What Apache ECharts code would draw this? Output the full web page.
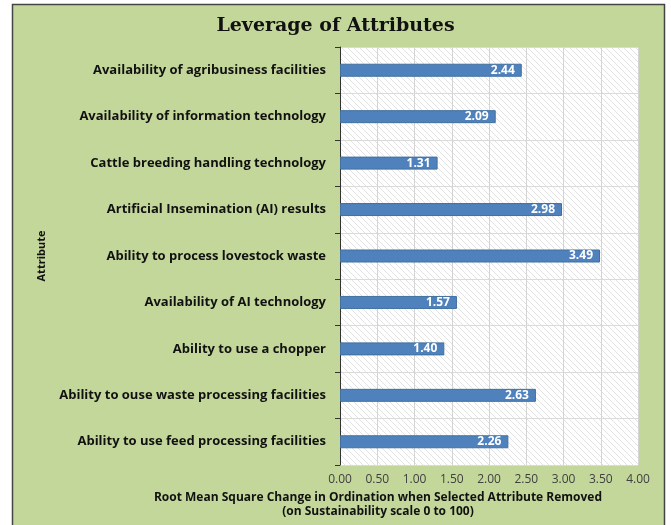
<!DOCTYPE html>
<html><head><meta charset="utf-8">
<script src="https://cdn.jsdelivr.net/npm/echarts@6/dist/echarts.min.js"></script>
<style>html,body{margin:0;padding:0;background:#fff;}#c{width:671px;height:525px;}</style>
</head><body><div id="c"></div>
<script>
const categories = [
  'Availability of agribusiness facilities',
  'Availability of information technology',
  'Cattle breeding handling technology',
  'Artificial Insemination (AI) results',
  'Ability to process lovestock waste',
  'Availability of AI technology',
  'Ability to use a chopper',
  'Ability to ouse waste processing facilities',
  'Ability to use feed processing facilities'
];
const values = [2.44, 2.09, 1.31, 2.98, 3.49, 1.57, 1.40, 2.63, 2.26];
const xTicks = [0, 0.5, 1, 1.5, 2, 2.5, 3, 3.5, 4];
const xTitle = ['Root Mean Square Change in Ordination when Selected Attribute Removed', '(on Sustainability scale 0 to 100)'];

const pc = document.createElement('canvas');
pc.width = 6; pc.height = 6;
const g = pc.getContext('2d');
g.fillStyle = '#ffffff'; g.fillRect(0,0,6,6);
g.strokeStyle = '#e2e2e2'; g.lineWidth = 1;
g.beginPath(); g.moveTo(-1,-1); g.lineTo(7,7); g.moveTo(-1,5); g.lineTo(1,7); g.moveTo(5,-1); g.lineTo(7,1); g.stroke();

const chart = echarts.init(document.getElementById('c'));
const font = '"Open Sans", Lato, sans-serif';
chart.setOption({
  animation: false,
  graphic: [{
    type: 'rect', z: -10, silent: true,
    shape: {x: 12.5, y: 4.5, width: 652, height: 525},
    style: {fill: '#c4d79b', stroke: '#444', lineWidth: 1.5}
  }, {
    type: 'text', left: 378 - 240, top: 491, silent: true,
    style: {text: xTitle.join('\n'), x: 240, width: 480, textAlign: 'center',
      font: 'bold 12px ' + font, fill: '#111', lineHeight: 14}
  }],
  title: {
    text: 'Leverage of Attributes', left: 'center', top: 12,
    textStyle: {fontFamily: '"DejaVu Serif", "Liberation Serif", serif', fontWeight: 'bold', fontSize: 19, color: '#111'}
  },
  grid: {
    left: 340, right: 33, top: 47, bottom: 60, show: true, containLabel: false, outerBoundsMode: 'none',
    backgroundColor: {image: pc, repeat: 'repeat'}, borderWidth: 0
  },
  xAxis: {
    type: 'value', min: 0, max: 4, interval: 0.5,
    axisLine: {show: false}, axisTick: {show: false},
    axisLabel: {formatter: v => v.toFixed(2), color: '#404040', fontFamily: font, fontSize: 12, margin: 9},
    splitLine: {show: true, lineStyle: {color: '#d4d4d4', width: 1}}
  },
  yAxis: {
    type: 'category', data: categories, inverse: true,
    axisLine: {show: true, lineStyle: {color: '#333', width: 1}},
    axisTick: {show: true, length: 5, lineStyle: {color: '#333'}},
    axisLabel: {color: '#111', fontFamily: font, fontWeight: 'bold', fontSize: 13, margin: 14},
    splitLine: {show: true, lineStyle: {color: '#dadada'}},
    name: 'Attribute', nameLocation: 'middle', nameGap: 293, nameRotate: 90,
    nameTextStyle: {fontFamily: font, fontWeight: 'bold', fontSize: 11, color: '#111'}
  },
  series: [{
    type: 'bar', data: values, barWidth: 13,
    itemStyle: {color: '#4f81bd', borderColor: '#41709f', borderWidth: 1},
    label: {show: true, position: 'insideRight', distance: 7, formatter: p => p.value.toFixed(2),
      color: '#fff', fontFamily: font, fontWeight: 'bold', fontSize: 12}
  }]
});
</script></body></html>
